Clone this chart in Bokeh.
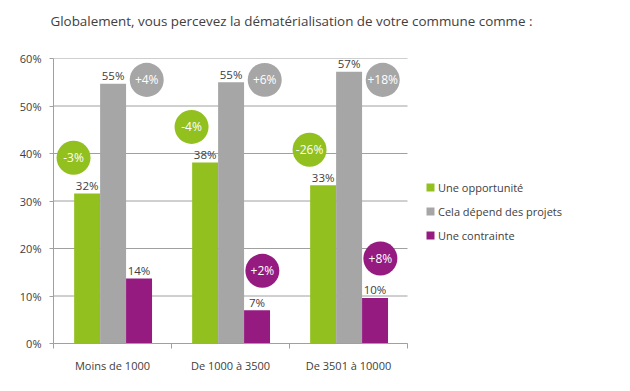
from bokeh.plotting import figure
from bokeh.models import (ColumnDataSource, FixedTicker, Legend, LegendItem, Title)
from bokeh.core.properties import value
from bokeh.embed import file_html
from bokeh.resources import INLINE

categories = ["Moins de 1000", "De 1000 à 3500", "De 3501 à 10000"]
series = ["Une opportunité", "Cela dépend des projets", "Une contrainte"]
opportunite = [31.6, 38.1, 33.3]
depend = [54.7, 55.0, 57.2]
contrainte = [13.7, 7.0, 9.6]
opportunite_labels = ["32%", "38%", "33%"]
depend_labels = ["55%", "55%", "57%"]
contrainte_labels = ["14%", "7%", "10%"]
opportunite_evol = ["-3%", "-4%", "-26%"]
depend_evol = ["+4%", "+6%", "+18%"]
contrainte_evol = [None, "+2%", "+8%"]
y_ticks = [0, 10, 20, 30, 40, 50, 60]
y_tick_labels = ["0%", "10%", "20%", "30%", "40%", "50%", "60%"]

GREEN = "#92C01F"
GRAY = "#A6A6A6"
PURPLE = "#951B81"
TXT = "#404040"
LINE = "#A0A0A0"
FONT = "Open Sans"

# plot area: categories 0..3 occupy 354 px of a 553 px frame; the rest holds the legend
n_cat = len(categories)
x_end = n_cat * 553 / 354

p = figure(width=614, height=375, x_range=(0, x_end), y_range=(0, 60),
           output_backend="svg", toolbar_location=None,
           min_border_left=53, min_border_right=8, min_border_top=58,
           min_border_bottom=30)
p.outline_line_color = None
p.background_fill_color = "white"
p.border_fill_color = "white"

# horizontal grid lines limited to the category area
p.segment(x0=[0] * len(y_ticks), x1=[n_cat] * len(y_ticks), y0=y_ticks, y1=y_ticks,
          line_color=LINE, line_width=1)

bw = 0.22
offsets = [-0.215, 0.005, 0.225]
all_vals = [opportunite, depend, contrainte]
all_labels = [opportunite_labels, depend_labels, contrainte_labels]
colors = [GREEN, GRAY, PURPLE]
renderers = []
for k in range(3):
    xs = [i + 0.5 + offsets[k] for i in range(n_cat)]
    src = ColumnDataSource(dict(x=xs, top=all_vals[k], lab=all_labels[k]))
    r = p.vbar(x="x", top="top", width=bw, bottom=0, source=src,
               fill_color=colors[k], line_color=None)
    renderers.append(r)
    p.text(x="x", y="top", text="lab", source=src, text_align="center",
           text_baseline="alphabetic", y_offset=-8, text_font=value(FONT),
           text_font_size="11.5px", text_color=TXT)

# evolution bubbles
bubble_specs = [
    (opportunite, opportunite_evol, -0.33, 7.5, GREEN, False),
    (depend, depend_evol, 0.29, None, GRAY, True),
    (contrainte, contrainte_evol, 0.27, 8.3, PURPLE, False),
]
for vals, evol, dx, dy, col, fixed in bubble_specs:
    xs, ys, ts = [], [], []
    for i in range(n_cat):
        if evol[i] is None:
            continue
        xs.append(i + 0.5 + dx)
        ys.append(55.5 if fixed else vals[i] + dy)
        ts.append(evol[i])
    src = ColumnDataSource(dict(x=xs, y=ys, t=ts))
    p.scatter(x="x", y="y", size=34, marker="circle", fill_color=col,
              line_color=None, source=src)
    p.text(x="x", y="y", text="t", source=src, text_align="center",
           text_baseline="middle", text_font=value(FONT),
           text_font_size="12px", text_color="white")

# axes
p.yaxis.ticker = FixedTicker(ticks=y_ticks)
p.yaxis.major_label_overrides = {t: l for t, l in zip(y_ticks, y_tick_labels)}
p.yaxis.major_tick_in = 0
p.yaxis.major_tick_out = 4
p.yaxis.minor_tick_line_color = None
p.yaxis.axis_line_color = LINE
p.yaxis.major_tick_line_color = LINE
p.yaxis.major_label_text_font = FONT
p.yaxis.major_label_text_font_size = "11px"
p.yaxis.major_label_text_color = TXT
p.yaxis.major_label_standoff = 8

p.xaxis.bounds = (0, n_cat)
p.xaxis.ticker = FixedTicker(ticks=[i + 0.5 for i in range(n_cat)],
                             minor_ticks=list(range(n_cat + 1)))
p.xaxis.major_label_overrides = {i + 0.5: c for i, c in enumerate(categories)}
p.xaxis.major_tick_line_color = None
p.xaxis.minor_tick_in = 0
p.xaxis.minor_tick_out = 5
p.xaxis.minor_tick_line_color = LINE
p.xaxis.axis_line_color = LINE
p.xaxis.major_label_text_font = FONT
p.xaxis.major_label_text_font_size = "11px"
p.xaxis.major_label_text_color = TXT
p.xaxis.major_label_standoff = 8

p.xgrid.grid_line_color = None
p.ygrid.grid_line_color = None

# title
p.title = Title(text="Globalement, vous percevez la dématérialisation de votre commune comme :",
                align="left", offset=-3, text_font=FONT, text_font_size="13.4px",
                text_font_style="normal", text_color=TXT, standoff=4,
                padding=dict(left=0, right=0, top=0, bottom=27))

legend = Legend(items=[LegendItem(label=s, renderers=[r]) for s, r in zip(series, renderers)],
                location=(372, 98), orientation="vertical",
                glyph_width=10, glyph_height=10, label_height=20, spacing=4,
                padding=0, margin=0, label_standoff=3,
                label_text_font=FONT, label_text_font_size="11px",
                label_text_color=TXT, border_line_color=None,
                background_fill_alpha=0)
p.add_layout(legend)

open("out.html", "w").write(file_html(p, INLINE))
